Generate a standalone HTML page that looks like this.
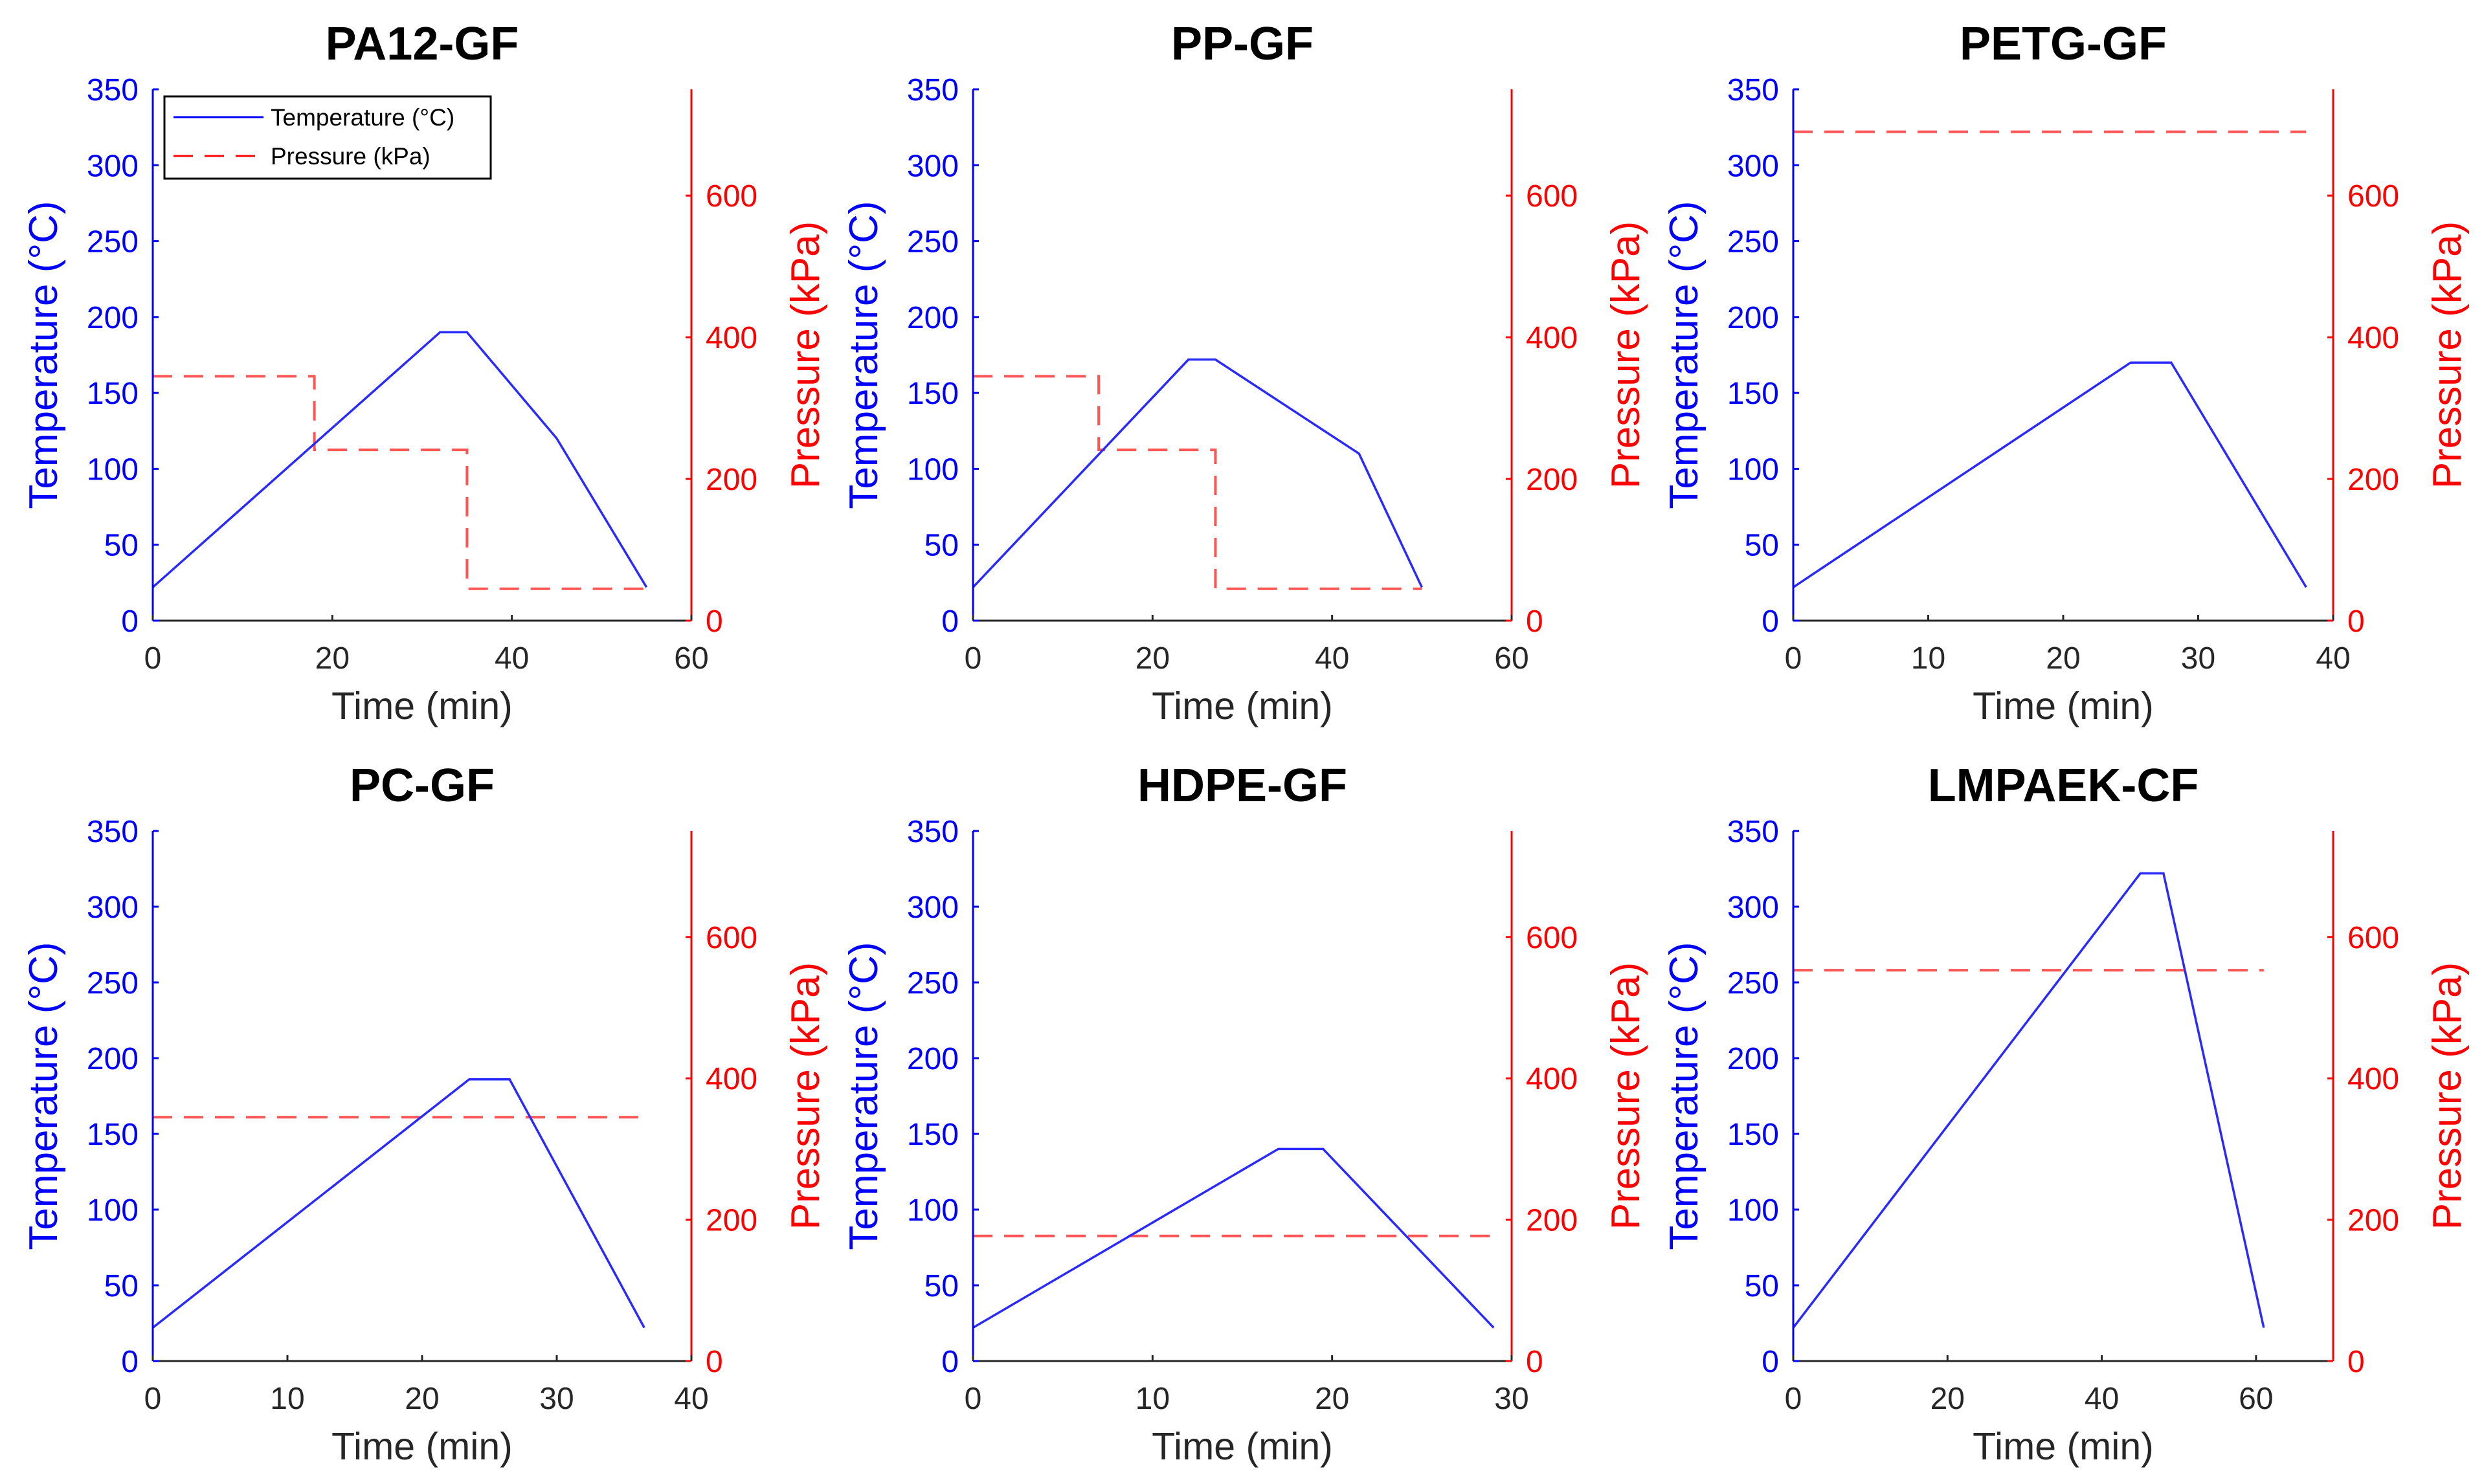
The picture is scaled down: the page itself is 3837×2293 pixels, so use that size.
<!DOCTYPE html>
<html><head><meta charset="utf-8"><style>
html,body{margin:0;padding:0;background:#fff}
svg{display:block;font-family:"Liberation Sans",sans-serif}
</style></head><body>
<svg id="fig" width="3837" height="2293" viewBox="0 0 3837 2293" xmlns="http://www.w3.org/2000/svg"></svg>
<script>
const titles = ["PA12-GF","PP-GF","PETG-GF","PC-GF","HDPE-GF","LMPAEK-CF"];
const xMaxes = [60,60,40,40,30,70];
const xTickSets = [[0,20,40,60],[0,20,40,60],[0,10,20,30,40],[0,10,20,30,40],[0,10,20,30],[0,20,40,60]];
const tempT = [[0,32,35,45,55],[0,24,27,43,50],[0,25,28,38],[0,23.5,26.5,36.5],[0,17,19.5,29],[0,45,48,61]];
const tempV = [[22,190,190,120,22],[22,172,172,110,22],[22,170,170,22],[22,186,186,22],[22,140,140,22],[22,322,322,22]];
const presT = [[0,18,18,35,35,55],[0,14,14,27,27,50],[0,38],[0,36.5],[0,29],[0,61]];
const presV = [[345,345,241,241,45,45],[345,345,241,241,45,45],[690,690],[345,345],[177,177],[553,553]];
const tempTicks = [0,50,100,150,200,250,300,350];
const presTicks = [0,200,400,600];
const TMAX = 350, PMAX = 750;

const NS = "http://www.w3.org/2000/svg";
const svg = document.getElementById('fig');
function mk(tag, attrs, parent, text){
  const e = document.createElementNS(NS, tag);
  for (const k in attrs) e.setAttribute(k, attrs[k]);
  if (text !== undefined) e.textContent = text;
  (parent||svg).appendChild(e);
  return e;
}
const lefts = [236,1503,2770], rights = [1068,2335,3604];
const tops = [138,1284], bottoms = [959,2103];

for (let i=0;i<6;i++){
  const c = i%3, r = Math.floor(i/3);
  const L = lefts[c], R = rights[c], T = tops[r], B = bottoms[r];
  const g = mk('g', {});
  
  
  const sx = v => L + (v/xMaxes[i])*(R-L);
  const sy = v => B - (v/TMAX)*(B-T);
  const sp = v => B - (v/PMAX)*(B-T);

  const t = mk('text', {x:(L+R)/2, y:T-46, 'text-anchor':'middle', 'font-size':72, 'font-weight':'bold', fill:'#000'}, g, titles[i]);
  
  

  const pp = presT[i].map((x,k)=>sx(x)+','+sp(presV[i][k])).join(' ');
  const pl = mk('polyline', {points:pp, fill:'none', stroke:'#ff5555', 'stroke-width':4, 'stroke-dasharray':'30 18'}, g);
  
  
  const tp = tempT[i].map((x,k)=>sx(x)+','+sy(tempV[i][k])).join(' ');
  const tl = mk('polyline', {points:tp, fill:'none', stroke:'#2a2aff', 'stroke-width':3.5}, g);
  
  

  const xa = mk('line', {x1:L, y1:B, x2:R, y2:B, stroke:'#262626', 'stroke-width':3}, g);
  
  
  const ya = mk('line', {x1:L, y1:T, x2:L, y2:B, stroke:'#0000ff', 'stroke-width':3}, g);
  
  
  const ra = mk('line', {x1:R, y1:T, x2:R, y2:B, stroke:'#ff0000', 'stroke-width':3}, g);
  
  

  xTickSets[i].forEach(v=>{
    const x = sx(v);
    mk('line', {x1:x, y1:B, x2:x, y2:B-9, stroke:'#262626', 'stroke-width':3}, g);
    const tx = mk('text', {x:x, y:B+74, 'text-anchor':'middle', 'font-size':48, fill:'#262626'}, g, String(v));
    
    
  });
  tempTicks.forEach(v=>{
    const y = sy(v);
    mk('line', {x1:L, y1:y, x2:L+9, y2:y, stroke:'#0000ff', 'stroke-width':3}, g);
    const tx = mk('text', {x:L-22, y:y+17, 'text-anchor':'end', 'font-size':48, fill:'#0000ff'}, g, String(v));
    
    
  });
  presTicks.forEach(v=>{
    const y = sp(v);
    mk('line', {x1:R, y1:y, x2:R-9, y2:y, stroke:'#ff0000', 'stroke-width':3}, g);
    const tx = mk('text', {x:R+22, y:y+17, 'text-anchor':'start', 'font-size':48, fill:'#ff0000'}, g, String(v));
    
    
  });
  const xl = mk('text', {x:(L+R)/2, y:B+152, 'text-anchor':'middle', 'font-size':59, fill:'#262626'}, g, 'Time (min)');
  
  
  const cy = (T+B)/2;
  const yl = mk('text', {x:0, y:0, transform:`translate(${L-148},${cy}) rotate(-90)`, 'text-anchor':'middle', 'font-size':62, fill:'#0000ff'}, g, 'Temperature (°C)');
  
  
  const rl = mk('text', {x:0, y:0, transform:`translate(${R+197},${cy}) rotate(-90)`, 'text-anchor':'middle', 'font-size':62, fill:'#ff0000'}, g, 'Pressure (kPa)');
  
  

  if (i===0){
    const lg = mk('g', {}, g);
    
    
    mk('rect', {x:254, y:149, width:504, height:127, fill:'#fff', stroke:'#000', 'stroke-width':3}, lg);
    mk('line', {x1:268, y1:181, x2:407, y2:181, stroke:'#0000ff', 'stroke-width':3}, lg);
    const l1 = mk('text', {x:418, y:194, 'font-size':37, fill:'#000'}, lg, 'Temperature (°C)');
    
    
    mk('line', {x1:268, y1:241, x2:407, y2:241, stroke:'#ff0000', 'stroke-width':3, 'stroke-dasharray':'30 18'}, lg);
    const l2 = mk('text', {x:418, y:254, 'font-size':37, fill:'#000'}, lg, 'Pressure (kPa)');
    
    
  }
}
</script>
</body></html>
